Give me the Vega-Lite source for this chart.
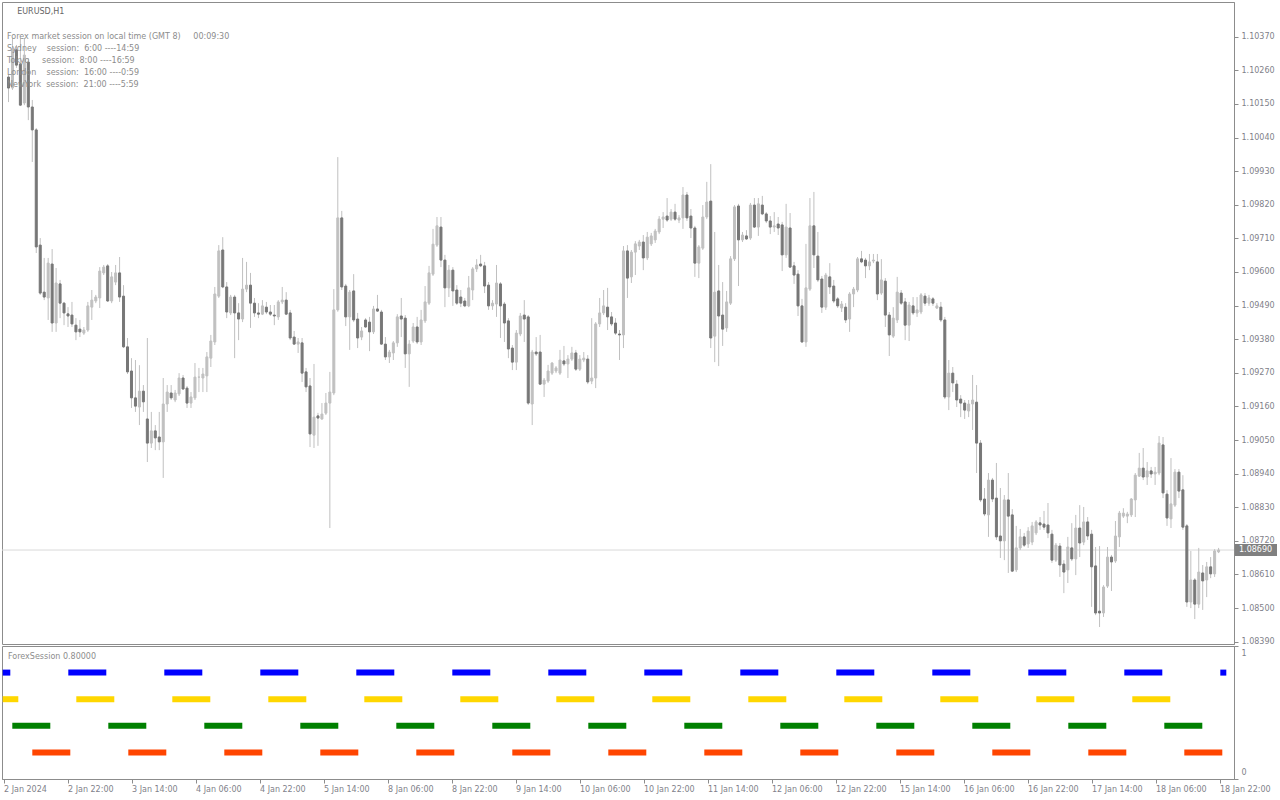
{
"$schema": "https://vega.github.io/schema/vega-lite/v6.json",
"background": "white",
"padding": {"left": 1, "top": 1, "right": 0, "bottom": 0},
"bounds": "flush",
"spacing": 2,
"config": {
  "view": {"stroke": "#8c8c8c", "strokeWidth": 1},
  "font": "DejaVu Sans",
  "axis": {"domainColor": "#8c8c8c", "tickColor": "#8c8c8c", "labelColor": "#7f7f8a", "labelFont": "DejaVu Sans", "labelFontSize": 8, "grid": false, "labelOverlap": false},
  "axisQuantitative": {"labelOverlap": false}
},
"datasets": {
"candles": [
{"i":0,"o":1.10238,"h":1.10245,"l":1.10156,"c":1.10202},
{"i":1,"o":1.10202,"h":1.10366,"l":1.10196,"c":1.10327},
{"i":2,"o":1.10327,"h":1.10343,"l":1.10268,"c":1.10277},
{"i":3,"o":1.10281,"h":1.10366,"l":1.10143,"c":1.10146},
{"i":4,"o":1.10153,"h":1.10366,"l":1.10146,"c":1.10310},
{"i":5,"o":1.10287,"h":1.10300,"l":1.10097,"c":1.10140},
{"i":6,"o":1.10140,"h":1.10163,"l":1.09960,"c":1.10065},
{"i":7,"o":1.10065,"h":1.10071,"l":1.09662,"c":1.09682},
{"i":8,"o":1.09688,"h":1.09711,"l":1.09525,"c":1.09531},
{"i":9,"o":1.09534,"h":1.09646,"l":1.09508,"c":1.09518},
{"i":10,"o":1.09515,"h":1.09646,"l":1.09443,"c":1.09629},
{"i":11,"o":1.09626,"h":1.09675,"l":1.09404,"c":1.09433},
{"i":12,"o":1.09433,"h":1.09613,"l":1.09404,"c":1.09564},
{"i":13,"o":1.09561,"h":1.09574,"l":1.09449,"c":1.09498},
{"i":14,"o":1.09498,"h":1.09502,"l":1.09426,"c":1.09466},
{"i":15,"o":1.09463,"h":1.09485,"l":1.09420,"c":1.09456},
{"i":16,"o":1.09459,"h":1.09502,"l":1.09420,"c":1.09430},
{"i":17,"o":1.09426,"h":1.09449,"l":1.09377,"c":1.09404},
{"i":18,"o":1.09413,"h":1.09443,"l":1.09387,"c":1.09404},
{"i":19,"o":1.09400,"h":1.09420,"l":1.09394,"c":1.09410},
{"i":20,"o":1.09410,"h":1.09502,"l":1.09404,"c":1.09489},
{"i":21,"o":1.09485,"h":1.09541,"l":1.09443,"c":1.09508},
{"i":22,"o":1.09505,"h":1.09525,"l":1.09498,"c":1.09518},
{"i":23,"o":1.09515,"h":1.09616,"l":1.09482,"c":1.09603},
{"i":24,"o":1.09597,"h":1.09623,"l":1.09590,"c":1.09616},
{"i":25,"o":1.09620,"h":1.09626,"l":1.09502,"c":1.09505},
{"i":26,"o":1.09505,"h":1.09600,"l":1.09498,"c":1.09584},
{"i":27,"o":1.09567,"h":1.09623,"l":1.09557,"c":1.09597},
{"i":28,"o":1.09597,"h":1.09649,"l":1.09502,"c":1.09518},
{"i":29,"o":1.09521,"h":1.09557,"l":1.09351,"c":1.09355},
{"i":30,"o":1.09355,"h":1.09384,"l":1.09266,"c":1.09273},
{"i":31,"o":1.09276,"h":1.09318,"l":1.09155,"c":1.09188},
{"i":32,"o":1.09188,"h":1.09312,"l":1.09142,"c":1.09161},
{"i":33,"o":1.09158,"h":1.09295,"l":1.09099,"c":1.09210},
{"i":34,"o":1.09210,"h":1.09230,"l":1.09142,"c":1.09175},
{"i":35,"o":1.09119,"h":1.09384,"l":1.08978,"c":1.09040},
{"i":36,"o":1.09040,"h":1.09142,"l":1.09024,"c":1.09080},
{"i":37,"o":1.09080,"h":1.09099,"l":1.09017,"c":1.09057},
{"i":38,"o":1.09060,"h":1.09142,"l":1.09017,"c":1.09044},
{"i":39,"o":1.09044,"h":1.09253,"l":1.08926,"c":1.09168},
{"i":40,"o":1.09168,"h":1.09230,"l":1.09142,"c":1.09207},
{"i":41,"o":1.09204,"h":1.09230,"l":1.09181,"c":1.09188},
{"i":42,"o":1.09181,"h":1.09214,"l":1.09174,"c":1.09204},
{"i":43,"o":1.09201,"h":1.09269,"l":1.09194,"c":1.09253},
{"i":44,"o":1.09253,"h":1.09263,"l":1.09214,"c":1.09217},
{"i":45,"o":1.09220,"h":1.09227,"l":1.09155,"c":1.09171},
{"i":46,"o":1.09171,"h":1.09207,"l":1.09155,"c":1.09191},
{"i":47,"o":1.09188,"h":1.09302,"l":1.09181,"c":1.09256},
{"i":48,"o":1.09256,"h":1.09286,"l":1.09207,"c":1.09256},
{"i":49,"o":1.09253,"h":1.09286,"l":1.09207,"c":1.09266},
{"i":50,"o":1.09260,"h":1.09338,"l":1.09207,"c":1.09322},
{"i":51,"o":1.09318,"h":1.09394,"l":1.09289,"c":1.09374},
{"i":52,"o":1.09371,"h":1.09551,"l":1.09361,"c":1.09528},
{"i":53,"o":1.09521,"h":1.09688,"l":1.09515,"c":1.09669},
{"i":54,"o":1.09672,"h":1.09714,"l":1.09547,"c":1.09551},
{"i":55,"o":1.09551,"h":1.09567,"l":1.09449,"c":1.09469},
{"i":56,"o":1.09466,"h":1.09525,"l":1.09459,"c":1.09518},
{"i":57,"o":1.09518,"h":1.09525,"l":1.09318,"c":1.09466},
{"i":58,"o":1.09466,"h":1.09498,"l":1.09377,"c":1.09446},
{"i":59,"o":1.09446,"h":1.09646,"l":1.09436,"c":1.09544},
{"i":60,"o":1.09544,"h":1.09633,"l":1.09534,"c":1.09557},
{"i":61,"o":1.09557,"h":1.09597,"l":1.09417,"c":1.09498},
{"i":62,"o":1.09498,"h":1.09515,"l":1.09453,"c":1.09466},
{"i":63,"o":1.09466,"h":1.09498,"l":1.09449,"c":1.09462},
{"i":64,"o":1.09462,"h":1.09508,"l":1.09459,"c":1.09489},
{"i":65,"o":1.09485,"h":1.09502,"l":1.09462,"c":1.09469},
{"i":66,"o":1.09469,"h":1.09492,"l":1.09456,"c":1.09462},
{"i":67,"o":1.09459,"h":1.09492,"l":1.09426,"c":1.09456},
{"i":68,"o":1.09453,"h":1.09508,"l":1.09443,"c":1.09502},
{"i":69,"o":1.09502,"h":1.09551,"l":1.09495,"c":1.09508},
{"i":70,"o":1.09508,"h":1.09534,"l":1.09459,"c":1.09462},
{"i":71,"o":1.09466,"h":1.09476,"l":1.09377,"c":1.09384},
{"i":72,"o":1.09387,"h":1.09407,"l":1.09361,"c":1.09364},
{"i":73,"o":1.09364,"h":1.09384,"l":1.09335,"c":1.09371},
{"i":74,"o":1.09368,"h":1.09384,"l":1.09240,"c":1.09269},
{"i":75,"o":1.09273,"h":1.09286,"l":1.09207,"c":1.09224},
{"i":76,"o":1.09227,"h":1.09253,"l":1.09027,"c":1.09070},
{"i":77,"o":1.09066,"h":1.09299,"l":1.09024,"c":1.09125},
{"i":78,"o":1.09129,"h":1.09139,"l":1.09031,"c":1.09122},
{"i":79,"o":1.09119,"h":1.09171,"l":1.09116,"c":1.09135},
{"i":80,"o":1.09138,"h":1.09204,"l":1.09132,"c":1.09171},
{"i":81,"o":1.09171,"h":1.09273,"l":1.08762,"c":1.09207},
{"i":82,"o":1.09204,"h":1.09544,"l":1.09197,"c":1.09476},
{"i":83,"o":1.09476,"h":1.09976,"l":1.09470,"c":1.09777},
{"i":84,"o":1.09777,"h":1.09800,"l":1.09541,"c":1.09551},
{"i":85,"o":1.09554,"h":1.09561,"l":1.09423,"c":1.09453},
{"i":86,"o":1.09453,"h":1.09541,"l":1.09345,"c":1.09534},
{"i":87,"o":1.09538,"h":1.09593,"l":1.09436,"c":1.09443},
{"i":88,"o":1.09446,"h":1.09466,"l":1.09351,"c":1.09384},
{"i":89,"o":1.09387,"h":1.09420,"l":1.09377,"c":1.09407},
{"i":90,"o":1.09443,"h":1.09449,"l":1.09417,"c":1.09420},
{"i":91,"o":1.09436,"h":1.09453,"l":1.09341,"c":1.09404},
{"i":92,"o":1.09404,"h":1.09489,"l":1.09397,"c":1.09479},
{"i":93,"o":1.09479,"h":1.09525,"l":1.09469,"c":1.09472},
{"i":94,"o":1.09469,"h":1.09476,"l":1.09361,"c":1.09364},
{"i":95,"o":1.09364,"h":1.09387,"l":1.09312,"c":1.09322},
{"i":96,"o":1.09322,"h":1.09345,"l":1.09302,"c":1.09338},
{"i":97,"o":1.09335,"h":1.09374,"l":1.09312,"c":1.09368},
{"i":98,"o":1.09368,"h":1.09462,"l":1.09355,"c":1.09453},
{"i":99,"o":1.09456,"h":1.09515,"l":1.09387,"c":1.09446},
{"i":100,"o":1.09449,"h":1.09459,"l":1.09286,"c":1.09332},
{"i":101,"o":1.09332,"h":1.09377,"l":1.09224,"c":1.09364},
{"i":102,"o":1.09374,"h":1.09433,"l":1.09368,"c":1.09420},
{"i":103,"o":1.09420,"h":1.09453,"l":1.09364,"c":1.09371},
{"i":104,"o":1.09371,"h":1.09476,"l":1.09361,"c":1.09443},
{"i":105,"o":1.09440,"h":1.09554,"l":1.09433,"c":1.09502},
{"i":106,"o":1.09498,"h":1.09620,"l":1.09492,"c":1.09597},
{"i":107,"o":1.09593,"h":1.09741,"l":1.09587,"c":1.09691},
{"i":108,"o":1.09688,"h":1.09780,"l":1.09682,"c":1.09751},
{"i":109,"o":1.09747,"h":1.09780,"l":1.09616,"c":1.09639},
{"i":110,"o":1.09639,"h":1.09656,"l":1.09485,"c":1.09548},
{"i":111,"o":1.09548,"h":1.09623,"l":1.09518,"c":1.09606},
{"i":112,"o":1.09606,"h":1.09616,"l":1.09489,"c":1.09538},
{"i":113,"o":1.09541,"h":1.09557,"l":1.09492,"c":1.09498},
{"i":114,"o":1.09518,"h":1.09541,"l":1.09485,"c":1.09498},
{"i":115,"o":1.09505,"h":1.09515,"l":1.09485,"c":1.09489},
{"i":116,"o":1.09489,"h":1.09587,"l":1.09485,"c":1.09548},
{"i":117,"o":1.09541,"h":1.09616,"l":1.09508,"c":1.09610},
{"i":118,"o":1.09610,"h":1.09642,"l":1.09600,"c":1.09623},
{"i":119,"o":1.09626,"h":1.09656,"l":1.09616,"c":1.09620},
{"i":120,"o":1.09620,"h":1.09633,"l":1.09531,"c":1.09554},
{"i":121,"o":1.09557,"h":1.09567,"l":1.09476,"c":1.09489},
{"i":122,"o":1.09489,"h":1.09508,"l":1.09476,"c":1.09498},
{"i":123,"o":1.09495,"h":1.09623,"l":1.09453,"c":1.09564},
{"i":124,"o":1.09561,"h":1.09567,"l":1.09384,"c":1.09489},
{"i":125,"o":1.09495,"h":1.09502,"l":1.09371,"c":1.09433},
{"i":126,"o":1.09440,"h":1.09449,"l":1.09318,"c":1.09348},
{"i":127,"o":1.09351,"h":1.09361,"l":1.09279,"c":1.09305},
{"i":128,"o":1.09305,"h":1.09410,"l":1.09279,"c":1.09400},
{"i":129,"o":1.09397,"h":1.09466,"l":1.09390,"c":1.09456},
{"i":130,"o":1.09459,"h":1.09508,"l":1.09371,"c":1.09446},
{"i":131,"o":1.09453,"h":1.09459,"l":1.09165,"c":1.09171},
{"i":132,"o":1.09168,"h":1.09345,"l":1.09099,"c":1.09338},
{"i":133,"o":1.09338,"h":1.09387,"l":1.09325,"c":1.09332},
{"i":134,"o":1.09338,"h":1.09394,"l":1.09230,"c":1.09233},
{"i":135,"o":1.09233,"h":1.09253,"l":1.09191,"c":1.09246},
{"i":136,"o":1.09243,"h":1.09296,"l":1.09237,"c":1.09276},
{"i":137,"o":1.09269,"h":1.09305,"l":1.09263,"c":1.09302},
{"i":138,"o":1.09276,"h":1.09292,"l":1.09269,"c":1.09286},
{"i":139,"o":1.09269,"h":1.09345,"l":1.09263,"c":1.09312},
{"i":140,"o":1.09309,"h":1.09358,"l":1.09292,"c":1.09299},
{"i":141,"o":1.09299,"h":1.09328,"l":1.09253,"c":1.09315},
{"i":142,"o":1.09315,"h":1.09355,"l":1.09309,"c":1.09335},
{"i":143,"o":1.09335,"h":1.09345,"l":1.09276,"c":1.09282},
{"i":144,"o":1.09282,"h":1.09328,"l":1.09276,"c":1.09315},
{"i":145,"o":1.09312,"h":1.09338,"l":1.09305,"c":1.09318},
{"i":146,"o":1.09315,"h":1.09328,"l":1.09233,"c":1.09240},
{"i":147,"o":1.09243,"h":1.09449,"l":1.09233,"c":1.09253},
{"i":148,"o":1.09253,"h":1.09436,"l":1.09220,"c":1.09430},
{"i":149,"o":1.09430,"h":1.09515,"l":1.09420,"c":1.09466},
{"i":150,"o":1.09466,"h":1.09541,"l":1.09459,"c":1.09489},
{"i":151,"o":1.09485,"h":1.09548,"l":1.09410,"c":1.09453},
{"i":152,"o":1.09453,"h":1.09469,"l":1.09423,"c":1.09430},
{"i":153,"o":1.09433,"h":1.09449,"l":1.09394,"c":1.09400},
{"i":154,"o":1.09397,"h":1.09410,"l":1.09312,"c":1.09394},
{"i":155,"o":1.09394,"h":1.09685,"l":1.09351,"c":1.09669},
{"i":156,"o":1.09669,"h":1.09688,"l":1.09515,"c":1.09580},
{"i":157,"o":1.09584,"h":1.09672,"l":1.09564,"c":1.09665},
{"i":158,"o":1.09665,"h":1.09701,"l":1.09590,"c":1.09692},
{"i":159,"o":1.09685,"h":1.09705,"l":1.09672,"c":1.09698},
{"i":160,"o":1.09698,"h":1.09721,"l":1.09606,"c":1.09646},
{"i":161,"o":1.09646,"h":1.09731,"l":1.09639,"c":1.09714},
{"i":162,"o":1.09692,"h":1.09728,"l":1.09685,"c":1.09718},
{"i":163,"o":1.09705,"h":1.09741,"l":1.09695,"c":1.09734},
{"i":164,"o":1.09731,"h":1.09783,"l":1.09724,"c":1.09773},
{"i":165,"o":1.09773,"h":1.09796,"l":1.09744,"c":1.09780},
{"i":166,"o":1.09783,"h":1.09842,"l":1.09764,"c":1.09770},
{"i":167,"o":1.09773,"h":1.09806,"l":1.09767,"c":1.09796},
{"i":168,"o":1.09796,"h":1.09823,"l":1.09767,"c":1.09773},
{"i":169,"o":1.09770,"h":1.09786,"l":1.09760,"c":1.09777},
{"i":170,"o":1.09777,"h":1.09878,"l":1.09741,"c":1.09852},
{"i":171,"o":1.09852,"h":1.09862,"l":1.09767,"c":1.09777},
{"i":172,"o":1.09783,"h":1.09806,"l":1.09711,"c":1.09744},
{"i":173,"o":1.09744,"h":1.09751,"l":1.09584,"c":1.09629},
{"i":174,"o":1.09629,"h":1.09688,"l":1.09580,"c":1.09682},
{"i":175,"o":1.09678,"h":1.09819,"l":1.09672,"c":1.09780},
{"i":176,"o":1.09780,"h":1.09895,"l":1.09773,"c":1.09829},
{"i":177,"o":1.09832,"h":1.09953,"l":1.09351,"c":1.09384},
{"i":178,"o":1.09390,"h":1.09731,"l":1.09305,"c":1.09534},
{"i":179,"o":1.09538,"h":1.09623,"l":1.09292,"c":1.09456},
{"i":180,"o":1.09459,"h":1.09567,"l":1.09358,"c":1.09413},
{"i":181,"o":1.09417,"h":1.09538,"l":1.09404,"c":1.09502},
{"i":182,"o":1.09498,"h":1.09652,"l":1.09492,"c":1.09643},
{"i":183,"o":1.09643,"h":1.09819,"l":1.09636,"c":1.09813},
{"i":184,"o":1.09816,"h":1.09823,"l":1.09554,"c":1.09705},
{"i":185,"o":1.09705,"h":1.09731,"l":1.09698,"c":1.09721},
{"i":186,"o":1.09718,"h":1.09737,"l":1.09705,"c":1.09708},
{"i":187,"o":1.09711,"h":1.09826,"l":1.09705,"c":1.09819},
{"i":188,"o":1.09819,"h":1.09842,"l":1.09744,"c":1.09747},
{"i":189,"o":1.09747,"h":1.09842,"l":1.09718,"c":1.09823},
{"i":190,"o":1.09819,"h":1.09849,"l":1.09786,"c":1.09790},
{"i":191,"o":1.09790,"h":1.09796,"l":1.09760,"c":1.09767},
{"i":192,"o":1.09767,"h":1.09783,"l":1.09724,"c":1.09747},
{"i":193,"o":1.09747,"h":1.09796,"l":1.09731,"c":1.09751},
{"i":194,"o":1.09757,"h":1.09780,"l":1.09721,"c":1.09744},
{"i":195,"o":1.09754,"h":1.09764,"l":1.09603,"c":1.09656},
{"i":196,"o":1.09656,"h":1.09823,"l":1.09646,"c":1.09747},
{"i":197,"o":1.09744,"h":1.09793,"l":1.09613,"c":1.09616},
{"i":198,"o":1.09620,"h":1.09633,"l":1.09561,"c":1.09590},
{"i":199,"o":1.09593,"h":1.09606,"l":1.09456,"c":1.09489},
{"i":200,"o":1.09489,"h":1.09512,"l":1.09368,"c":1.09371},
{"i":201,"o":1.09371,"h":1.09692,"l":1.09355,"c":1.09548},
{"i":202,"o":1.09544,"h":1.09842,"l":1.09538,"c":1.09751},
{"i":203,"o":1.09751,"h":1.09862,"l":1.09613,"c":1.09656},
{"i":204,"o":1.09652,"h":1.09731,"l":1.09567,"c":1.09574},
{"i":205,"o":1.09577,"h":1.09587,"l":1.09466,"c":1.09485},
{"i":206,"o":1.09485,"h":1.09597,"l":1.09476,"c":1.09590},
{"i":207,"o":1.09584,"h":1.09629,"l":1.09528,"c":1.09551},
{"i":208,"o":1.09554,"h":1.09574,"l":1.09498,"c":1.09505},
{"i":209,"o":1.09512,"h":1.09518,"l":1.09482,"c":1.09489},
{"i":210,"o":1.09482,"h":1.09505,"l":1.09469,"c":1.09495},
{"i":211,"o":1.09485,"h":1.09498,"l":1.09433,"c":1.09443},
{"i":212,"o":1.09446,"h":1.09534,"l":1.09404,"c":1.09528},
{"i":213,"o":1.09528,"h":1.09551,"l":1.09485,"c":1.09544},
{"i":214,"o":1.09541,"h":1.09649,"l":1.09534,"c":1.09643},
{"i":215,"o":1.09643,"h":1.09669,"l":1.09629,"c":1.09633},
{"i":216,"o":1.09639,"h":1.09646,"l":1.09580,"c":1.09620},
{"i":217,"o":1.09620,"h":1.09659,"l":1.09606,"c":1.09633},
{"i":218,"o":1.09636,"h":1.09659,"l":1.09629,"c":1.09639},
{"i":219,"o":1.09633,"h":1.09659,"l":1.09508,"c":1.09528},
{"i":220,"o":1.09531,"h":1.09642,"l":1.09525,"c":1.09574},
{"i":221,"o":1.09570,"h":1.09580,"l":1.09420,"c":1.09459},
{"i":222,"o":1.09459,"h":1.09469,"l":1.09325,"c":1.09394},
{"i":223,"o":1.09390,"h":1.09485,"l":1.09384,"c":1.09449},
{"i":224,"o":1.09443,"h":1.09584,"l":1.09433,"c":1.09534},
{"i":225,"o":1.09531,"h":1.09541,"l":1.09492,"c":1.09498},
{"i":226,"o":1.09502,"h":1.09515,"l":1.09377,"c":1.09426},
{"i":227,"o":1.09426,"h":1.09502,"l":1.09374,"c":1.09492},
{"i":228,"o":1.09489,"h":1.09518,"l":1.09459,"c":1.09466},
{"i":229,"o":1.09466,"h":1.09518,"l":1.09453,"c":1.09476},
{"i":230,"o":1.09469,"h":1.09531,"l":1.09462,"c":1.09525},
{"i":231,"o":1.09521,"h":1.09531,"l":1.09489,"c":1.09498},
{"i":232,"o":1.09498,"h":1.09525,"l":1.09489,"c":1.09515},
{"i":233,"o":1.09512,"h":1.09518,"l":1.09489,"c":1.09498},
{"i":234,"o":1.09482,"h":1.09498,"l":1.09479,"c":1.09489},
{"i":235,"o":1.09485,"h":1.09502,"l":1.09436,"c":1.09443},
{"i":236,"o":1.09443,"h":1.09453,"l":1.09184,"c":1.09191},
{"i":237,"o":1.09191,"h":1.09312,"l":1.09148,"c":1.09269},
{"i":238,"o":1.09269,"h":1.09289,"l":1.09207,"c":1.09237},
{"i":239,"o":1.09233,"h":1.09246,"l":1.09158,"c":1.09181},
{"i":240,"o":1.09184,"h":1.09197,"l":1.09125,"c":1.09171},
{"i":241,"o":1.09171,"h":1.09181,"l":1.09119,"c":1.09148},
{"i":242,"o":1.09145,"h":1.09181,"l":1.09125,"c":1.09168},
{"i":243,"o":1.09168,"h":1.09263,"l":1.09083,"c":1.09181},
{"i":244,"o":1.09174,"h":1.09230,"l":1.08942,"c":1.09040},
{"i":245,"o":1.09040,"h":1.09050,"l":1.08847,"c":1.08854},
{"i":246,"o":1.08857,"h":1.08893,"l":1.08801,"c":1.08808},
{"i":247,"o":1.08805,"h":1.08942,"l":1.08733,"c":1.08919},
{"i":248,"o":1.08919,"h":1.08926,"l":1.08847,"c":1.08857},
{"i":249,"o":1.08860,"h":1.08975,"l":1.08723,"c":1.08733},
{"i":250,"o":1.08736,"h":1.08893,"l":1.08664,"c":1.08720},
{"i":251,"o":1.08720,"h":1.08870,"l":1.08657,"c":1.08854},
{"i":252,"o":1.08854,"h":1.08942,"l":1.08615,"c":1.08801},
{"i":253,"o":1.08805,"h":1.08824,"l":1.08618,"c":1.08621},
{"i":254,"o":1.08625,"h":1.08769,"l":1.08618,"c":1.08697},
{"i":255,"o":1.08697,"h":1.08759,"l":1.08690,"c":1.08733},
{"i":256,"o":1.08733,"h":1.08746,"l":1.08700,"c":1.08706},
{"i":257,"o":1.08710,"h":1.08765,"l":1.08697,"c":1.08752},
{"i":258,"o":1.08716,"h":1.08782,"l":1.08706,"c":1.08769},
{"i":259,"o":1.08746,"h":1.08788,"l":1.08739,"c":1.08782},
{"i":260,"o":1.08779,"h":1.08798,"l":1.08756,"c":1.08772},
{"i":261,"o":1.08775,"h":1.08818,"l":1.08756,"c":1.08765},
{"i":262,"o":1.08772,"h":1.08844,"l":1.08729,"c":1.08746},
{"i":263,"o":1.08742,"h":1.08756,"l":1.08648,"c":1.08657},
{"i":264,"o":1.08657,"h":1.08713,"l":1.08651,"c":1.08706},
{"i":265,"o":1.08703,"h":1.08713,"l":1.08602,"c":1.08641},
{"i":266,"o":1.08644,"h":1.08657,"l":1.08549,"c":1.08618},
{"i":267,"o":1.08625,"h":1.08733,"l":1.08582,"c":1.08700},
{"i":268,"o":1.08697,"h":1.08778,"l":1.08654,"c":1.08661},
{"i":269,"o":1.08661,"h":1.08805,"l":1.08608,"c":1.08762},
{"i":270,"o":1.08762,"h":1.08837,"l":1.08667,"c":1.08713},
{"i":271,"o":1.08716,"h":1.08831,"l":1.08706,"c":1.08782},
{"i":272,"o":1.08782,"h":1.08798,"l":1.08723,"c":1.08736},
{"i":273,"o":1.08742,"h":1.08756,"l":1.08504,"c":1.08635},
{"i":274,"o":1.08638,"h":1.08700,"l":1.08477,"c":1.08484},
{"i":275,"o":1.08490,"h":1.08703,"l":1.08438,"c":1.08484},
{"i":276,"o":1.08484,"h":1.08575,"l":1.08471,"c":1.08569},
{"i":277,"o":1.08572,"h":1.08700,"l":1.08566,"c":1.08667},
{"i":278,"o":1.08667,"h":1.08674,"l":1.08556,"c":1.08651},
{"i":279,"o":1.08654,"h":1.08785,"l":1.08648,"c":1.08736},
{"i":280,"o":1.08733,"h":1.08818,"l":1.08700,"c":1.08811},
{"i":281,"o":1.08801,"h":1.08827,"l":1.08795,"c":1.08811},
{"i":282,"o":1.08801,"h":1.08815,"l":1.08778,"c":1.08808},
{"i":283,"o":1.08805,"h":1.08860,"l":1.08798,"c":1.08857},
{"i":284,"o":1.08854,"h":1.08942,"l":1.08798,"c":1.08935},
{"i":285,"o":1.08932,"h":1.09008,"l":1.08929,"c":1.08958},
{"i":286,"o":1.08958,"h":1.09024,"l":1.08919,"c":1.08929},
{"i":287,"o":1.08929,"h":1.08978,"l":1.08903,"c":1.08949},
{"i":288,"o":1.08949,"h":1.08962,"l":1.08926,"c":1.08939},
{"i":289,"o":1.08939,"h":1.08962,"l":1.08903,"c":1.08945},
{"i":290,"o":1.08942,"h":1.09063,"l":1.08935,"c":1.09040},
{"i":291,"o":1.09034,"h":1.09060,"l":1.08860,"c":1.08877},
{"i":292,"o":1.08873,"h":1.08886,"l":1.08769,"c":1.08795},
{"i":293,"o":1.08792,"h":1.08991,"l":1.08762,"c":1.08841},
{"i":294,"o":1.08837,"h":1.08955,"l":1.08831,"c":1.08945},
{"i":295,"o":1.08945,"h":1.08955,"l":1.08860,"c":1.08883},
{"i":296,"o":1.08887,"h":1.08935,"l":1.08756,"c":1.08765},
{"i":297,"o":1.08769,"h":1.08775,"l":1.08504,"c":1.08520},
{"i":298,"o":1.08520,"h":1.08687,"l":1.08500,"c":1.08592},
{"i":299,"o":1.08592,"h":1.08598,"l":1.08464,"c":1.08513},
{"i":300,"o":1.08513,"h":1.08697,"l":1.08500,"c":1.08618},
{"i":301,"o":1.08615,"h":1.08641,"l":1.08494,"c":1.08589},
{"i":302,"o":1.08592,"h":1.08651,"l":1.08536,"c":1.08635},
{"i":303,"o":1.08635,"h":1.08667,"l":1.08598,"c":1.08612},
{"i":304,"o":1.08612,"h":1.08693,"l":1.08602,"c":1.08687},
{"i":305,"o":1.08684,"h":1.08697,"l":1.08680,"c":1.08690}
],
"sessions": [
{"session":"Sydney","level":0.8,"start":-0.2,"end":1.7},
{"session":"Sydney","level":0.8,"start":16.2,"end":25.7},
{"session":"Sydney","level":0.8,"start":40.2,"end":49.7},
{"session":"Sydney","level":0.8,"start":64.2,"end":73.7},
{"session":"Sydney","level":0.8,"start":88.2,"end":97.7},
{"session":"Sydney","level":0.8,"start":112.2,"end":121.7},
{"session":"Sydney","level":0.8,"start":136.2,"end":145.7},
{"session":"Sydney","level":0.8,"start":160.2,"end":169.7},
{"session":"Sydney","level":0.8,"start":184.2,"end":193.7},
{"session":"Sydney","level":0.8,"start":208.2,"end":217.7},
{"session":"Sydney","level":0.8,"start":232.2,"end":241.7},
{"session":"Sydney","level":0.8,"start":256.2,"end":265.7},
{"session":"Sydney","level":0.8,"start":280.2,"end":289.7},
{"session":"Sydney","level":0.8,"start":304.2,"end":305.7},
{"session":"Tokyo","level":0.6,"start":-0.2,"end":3.7},
{"session":"Tokyo","level":0.6,"start":18.2,"end":27.7},
{"session":"Tokyo","level":0.6,"start":42.2,"end":51.7},
{"session":"Tokyo","level":0.6,"start":66.2,"end":75.7},
{"session":"Tokyo","level":0.6,"start":90.2,"end":99.7},
{"session":"Tokyo","level":0.6,"start":114.2,"end":123.7},
{"session":"Tokyo","level":0.6,"start":138.2,"end":147.7},
{"session":"Tokyo","level":0.6,"start":162.2,"end":171.7},
{"session":"Tokyo","level":0.6,"start":186.2,"end":195.7},
{"session":"Tokyo","level":0.6,"start":210.2,"end":219.7},
{"session":"Tokyo","level":0.6,"start":234.2,"end":243.7},
{"session":"Tokyo","level":0.6,"start":258.2,"end":267.7},
{"session":"Tokyo","level":0.6,"start":282.2,"end":291.7},
{"session":"London","level":0.4,"start":2.2,"end":11.7},
{"session":"London","level":0.4,"start":26.2,"end":35.7},
{"session":"London","level":0.4,"start":50.2,"end":59.7},
{"session":"London","level":0.4,"start":74.2,"end":83.7},
{"session":"London","level":0.4,"start":98.2,"end":107.7},
{"session":"London","level":0.4,"start":122.2,"end":131.7},
{"session":"London","level":0.4,"start":146.2,"end":155.7},
{"session":"London","level":0.4,"start":170.2,"end":179.7},
{"session":"London","level":0.4,"start":194.2,"end":203.7},
{"session":"London","level":0.4,"start":218.2,"end":227.7},
{"session":"London","level":0.4,"start":242.2,"end":251.7},
{"session":"London","level":0.4,"start":266.2,"end":275.7},
{"session":"London","level":0.4,"start":290.2,"end":299.7},
{"session":"NewYork","level":0.2,"start":7.2,"end":16.7},
{"session":"NewYork","level":0.2,"start":31.2,"end":40.7},
{"session":"NewYork","level":0.2,"start":55.2,"end":64.7},
{"session":"NewYork","level":0.2,"start":79.2,"end":88.7},
{"session":"NewYork","level":0.2,"start":103.2,"end":112.7},
{"session":"NewYork","level":0.2,"start":127.2,"end":136.7},
{"session":"NewYork","level":0.2,"start":151.2,"end":160.7},
{"session":"NewYork","level":0.2,"start":175.2,"end":184.7},
{"session":"NewYork","level":0.2,"start":199.2,"end":208.7},
{"session":"NewYork","level":0.2,"start":223.2,"end":232.7},
{"session":"NewYork","level":0.2,"start":247.2,"end":256.7},
{"session":"NewYork","level":0.2,"start":271.2,"end":280.7},
{"session":"NewYork","level":0.2,"start":295.2,"end":304.7}
]
},
"vconcat": [
{
  "width": 1232,
  "height": 642,
  "title": {
    "text": "\u200b\u00a0\u00a0\u00a0\u00a0EURUSD,H1",
    "subtitle": [
      "Forex market session on local time (GMT 8)\u00a0\u00a0\u00a0\u00a0 00:09:30",
      "Sydney\u00a0\u00a0\u00a0 session:\u00a0 6:00 ----14:59",
      "Tokyo\u00a0\u00a0\u00a0\u00a0 session:\u00a0 8:00 ----16:59",
      "London\u00a0\u00a0\u00a0 session:\u00a0 16:00 ----0:59",
      "NewYork\u00a0 session:\u00a0 21:00 ----5:59"
    ],
    "anchor": "start",
    "frame": "group",
    "orient": "top",
    "offset": -87,
    "dx": 5,
    "font": "DejaVu Sans",
    "fontSize": 8,
    "fontWeight": "normal",
    "color": "#666666",
    "subtitleFont": "DejaVu Sans",
    "subtitleFontSize": 8,
    "subtitleColor": "#8c8c8c",
    "subtitleLineHeight": 12,
    "subtitlePadding": 17
  },
  "data": {"name": "candles"},
  "encoding": {
    "y": {"type": "quantitative", "title": null,
      "scale": {"domain": [1.083825, 1.104836], "nice": false, "zero": false},
      "axis": {"orient": "right", "format": ".5f", "tickSize": 4, "labelPadding": 3, "labelOverlap": false, "labelSeparation": 0,
        "values": [1.0839, 1.085, 1.0861, 1.0872, 1.0883, 1.0894, 1.0905, 1.0916, 1.0927, 1.0938, 1.0949, 1.096, 1.0971, 1.0982, 1.0993, 1.1004, 1.1015, 1.1026, 1.1037]}}
  },
  "layer": [
    {
      "transform": [{"filter": "datum.i == 305"}],
      "mark": {"type": "rule", "color": "#d9d9d9", "strokeWidth": 1},
      "encoding": {
        "y": {"field": "c", "type": "quantitative", "title": null}
      }
    },
    {
      "mark": {"type": "rule", "color": "#c0c0c0", "strokeWidth": 1},
      "encoding": {
        "x": {"field": "i", "type": "quantitative", "scale": {"domain": [-0.375, 307.625], "nice": false, "zero": false}, "axis": null},
        "y": {"field": "l", "type": "quantitative", "title": null},
        "y2": {"field": "h"}
      }
    },
    {
      "mark": {"type": "bar", "width": 2, "strokeWidth": 1},
      "encoding": {
        "x": {"field": "i", "type": "quantitative"},
        "y": {"field": "o", "type": "quantitative", "title": null},
        "y2": {"field": "c"},
        "fill": {"condition": {"test": "datum.c >= datum.o", "value": "#c0c0c0"}, "value": "#777777"},
        "stroke": {"condition": {"test": "datum.c >= datum.o", "value": "#c0c0c0"}, "value": "#777777"}
      }
    },
    {
      "transform": [{"filter": "datum.i == 305"}],
      "mark": {"type": "point", "shape": "M0.1,-0.6L4.3,-0.6L4.3,0.6L0.1,0.6Z", "size": 400, "filled": true, "color": "#808080", "opacity": 1, "strokeWidth": 0},
      "encoding": {
        "x": {"value": "width"},
        "y": {"field": "c", "type": "quantitative", "title": null}
      }
    },
    {
      "transform": [{"filter": "datum.i == 305"}],
      "mark": {"type": "text", "align": "left", "baseline": "middle", "dx": 5, "color": "white", "font": "DejaVu Sans", "fontSize": 8},
      "encoding": {
        "x": {"value": "width"},
        "y": {"field": "c", "type": "quantitative", "title": null},
        "text": {"field": "c", "type": "quantitative", "format": ".5f"}
      }
    }
  ]
},
{
  "width": 1232,
  "height": 133,
  "title": {
    "text": "ForexSession 0.80000",
    "anchor": "start",
    "frame": "group",
    "orient": "top",
    "offset": -15,
    "dx": 6,
    "font": "DejaVu Sans",
    "fontSize": 8,
    "fontWeight": "normal",
    "color": "#8c8c8c"
  },
  "data": {"name": "sessions"},
  "mark": {"type": "rule", "strokeWidth": 6, "strokeCap": "butt", "clip": true},
  "encoding": {
    "x": {"field": "start", "type": "quantitative", "title": null,
      "scale": {"domain": [-0.375, 307.625], "nice": false, "zero": false},
      "axis": {"values": [0, 16, 32, 48, 64, 80, 96, 112, 128, 144, 160, 176, 192, 208, 224, 240, 256, 272, 288, 304],
        "labelExpr": "['2 Jan 2024','2 Jan 22:00','3 Jan 14:00','4 Jan 06:00','4 Jan 22:00','5 Jan 14:00','8 Jan 06:00','8 Jan 22:00','9 Jan 14:00','10 Jan 06:00','10 Jan 22:00','11 Jan 14:00','12 Jan 06:00','12 Jan 22:00','15 Jan 14:00','16 Jan 06:00','16 Jan 22:00','17 Jan 14:00','18 Jan 06:00','18 Jan 22:00'][round(datum.value/16)]",
        "labelAlign": "left", "tickSize": 4, "labelPadding": 2, "labelFlush": false, "labelBound": false, "labelOverlap": false}},
    "x2": {"field": "end"},
    "y": {"field": "level", "type": "quantitative", "title": null,
      "scale": {"domain": [0, 1], "nice": false, "zero": false},
      "axis": {"orient": "right", "values": [0, 1], "format": "d", "labelFlush": true, "labelFlushOffset": -3, "tickSize": 4, "labelPadding": 3}},
    "color": {"field": "session", "type": "nominal",
      "scale": {"domain": ["Sydney", "Tokyo", "London", "NewYork"], "range": ["#0000ff", "#ffd700", "#008000", "#ff4500"]},
      "legend": null}
  }
}
]
}
